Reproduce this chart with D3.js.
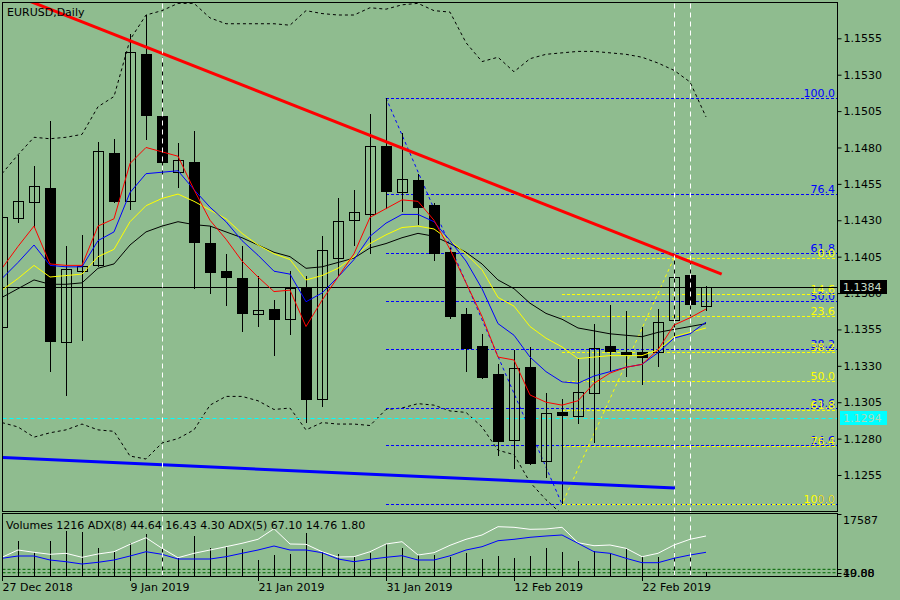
<!DOCTYPE html>
<html>
<head>
<meta charset="utf-8">
<script src="https://cdn.jsdelivr.net/npm/d3@7/dist/d3.min.js"></script>
<style>
    body { margin: 0; background: #8fbc8f; }
    svg { display: block; font-family: "DejaVu Sans", sans-serif; font-size: 11px; }
</style>
</head>
<body>
<svg id="chart" width="900" height="600"></svg>
<script>
// EURUSD Daily - velas, medias, Bollinger, Fibonacci, volumen + ADX

// Fechas de las barras (dias de mercado)
const dates = [
    '27 Dec 2018', '28 Dec 2018', '31 Dec 2018', '2 Jan 2019', '3 Jan 2019', '4 Jan 2019', '7 Jan 2019', '8 Jan 2019',
    '9 Jan 2019', '10 Jan 2019', '11 Jan 2019', '14 Jan 2019', '15 Jan 2019', '16 Jan 2019', '17 Jan 2019', '18 Jan 2019',
    '21 Jan 2019', '22 Jan 2019', '23 Jan 2019', '24 Jan 2019', '25 Jan 2019', '28 Jan 2019', '29 Jan 2019', '30 Jan 2019',
    '31 Jan 2019', '1 Feb 2019', '4 Feb 2019', '5 Feb 2019', '6 Feb 2019', '7 Feb 2019', '8 Feb 2019', '11 Feb 2019',
    '12 Feb 2019', '13 Feb 2019', '14 Feb 2019', '15 Feb 2019', '18 Feb 2019', '19 Feb 2019', '20 Feb 2019', '21 Feb 2019',
    '22 Feb 2019', '25 Feb 2019', '26 Feb 2019', '27 Feb 2019', '28 Feb 2019'
];

const opens = [
    1.1356, 1.1431, 1.1442, 1.1452, 1.1346, 1.1395, 1.1399, 1.1476, 1.1443, 1.1544,
    1.1501, 1.1463, 1.1470, 1.1414, 1.1395, 1.1390, 1.1365, 1.1369, 1.1362, 1.1384,
    1.1307, 1.1404, 1.1430, 1.1434, 1.1481, 1.1449, 1.1457, 1.1440, 1.1408, 1.1365,
    1.1343, 1.1324, 1.1279, 1.1329, 1.1264, 1.1298, 1.1295, 1.1311, 1.1343, 1.1339,
    1.1339, 1.1339, 1.1361, 1.1392, 1.1371
];
const highs = [
    1.1437, 1.1475, 1.1467, 1.1498, 1.1412, 1.1420, 1.1484, 1.1486, 1.1558, 1.1571,
    1.1542, 1.1483, 1.1491, 1.1426, 1.1407, 1.1412, 1.1392, 1.1375, 1.1395, 1.1392,
    1.1419, 1.1445, 1.1451, 1.1503, 1.1514, 1.1490, 1.1462, 1.1442, 1.1411, 1.1370,
    1.1352, 1.1331, 1.1341, 1.1343, 1.1311, 1.1307, 1.1335, 1.1359, 1.1372, 1.1368,
    1.1357, 1.1369, 1.1404, 1.1405, 1.1385
];
const lows = [
    1.1351, 1.1428, 1.1425, 1.1326, 1.1309, 1.1347, 1.1398, 1.1442, 1.1437, 1.1485,
    1.1459, 1.1452, 1.1383, 1.1379, 1.1371, 1.1353, 1.1357, 1.1337, 1.1351, 1.1291,
    1.1302, 1.1391, 1.1412, 1.1407, 1.1438, 1.1436, 1.1427, 1.1402, 1.1362, 1.1326,
    1.1321, 1.1268, 1.1259, 1.1262, 1.1253, 1.1235, 1.1290, 1.1277, 1.1326, 1.1322,
    1.1317, 1.1329, 1.1348, 1.1364, 1.1368
];
const closes = [
    1.1432, 1.1443, 1.1453, 1.1347, 1.1396, 1.1398, 1.1477, 1.1443, 1.1545, 1.1502,
    1.1470, 1.1471, 1.1415, 1.1394, 1.1391, 1.1366, 1.1368, 1.1362, 1.1383, 1.1307,
    1.1409, 1.1429, 1.1435, 1.1481, 1.1450, 1.1458, 1.1439, 1.1407, 1.1364, 1.1342,
    1.1322, 1.1278, 1.1328, 1.1263, 1.1297, 1.1296, 1.1312, 1.1342, 1.1340, 1.1338,
    1.1336, 1.1360, 1.1391, 1.1372, 1.1384
];

// Medias moviles
const maRed = [
    1.1397, 1.1412, 1.1426, 1.1400, 1.1399, 1.1399, 1.1426, 1.1431, 1.1469, 1.1480,
    1.1477, 1.1474, 1.1451, 1.1430, 1.1417, 1.1402, 1.1391, 1.1381, 1.1382, 1.1357,
    1.1375, 1.1391, 1.1407, 1.1432, 1.1438, 1.1444, 1.1443, 1.1430, 1.1410, 1.1387,
    1.1364, 1.1336, 1.1334, 1.1310, 1.1305, 1.1303, 1.1306, 1.1318, 1.1325, 1.1329,
    1.1331, 1.1341, 1.1358, 1.1363, 1.1369
];
const maBlue = [
    1.1390, 1.1401, 1.1413, 1.1399, 1.1398, 1.1398, 1.1416, 1.1422, 1.1449, 1.1462,
    1.1463, 1.1464, 1.1451, 1.1439, 1.1429, 1.1416, 1.1406, 1.1395, 1.1393, 1.1374,
    1.1380, 1.1391, 1.1403, 1.1419, 1.1428, 1.1434, 1.1434, 1.1429, 1.1416, 1.1402,
    1.1383, 1.1359, 1.1351, 1.1336, 1.1326, 1.1319, 1.1318, 1.1323, 1.1326, 1.1329,
    1.1331, 1.1339, 1.1349, 1.1352, 1.1360
];
const maYellow = [
    1.1382, 1.1390, 1.1399, 1.1391, 1.1392, 1.1393, 1.1405, 1.1410, 1.1429, 1.1440,
    1.1445, 1.1448, 1.1443, 1.1437, 1.1431, 1.1421, 1.1413, 1.1407, 1.1403, 1.1389,
    1.1392, 1.1397, 1.1405, 1.1414, 1.1420, 1.1425, 1.1426, 1.1424, 1.1416, 1.1407,
    1.1396, 1.1377, 1.1371, 1.1357, 1.1349, 1.1343, 1.1335, 1.1336, 1.1337, 1.1337,
    1.1337, 1.1341, 1.1350, 1.1353, 1.1356
];
const maBlack = [
    1.1377, 1.1383, 1.1389, 1.1386, 1.1386, 1.1387, 1.1397, 1.1400, 1.1413, 1.1422,
    1.1426, 1.1429, 1.1427, 1.1426, 1.1422, 1.1418, 1.1413, 1.1408, 1.1405, 1.1397,
    1.1398, 1.1401, 1.1404, 1.1411, 1.1414, 1.1418, 1.1421, 1.1419, 1.1414, 1.1408,
    1.1400, 1.1389, 1.1383, 1.1373, 1.1366, 1.1362, 1.1356, 1.1354, 1.1352, 1.1351,
    1.1350, 1.1353, 1.1355, 1.1357, 1.1359
];

// Bandas de Bollinger (la inferior sale del grafico tras el 15 Feb)
const bbUpper = [
    1.1462, 1.1475, 1.1487, 1.1486, 1.1487, 1.1489, 1.1508, 1.1515, 1.1554, 1.1571,
    1.1574, 1.1579, 1.1579, 1.1569, 1.1565, 1.1565, 1.1565, 1.1565, 1.1564, 1.1574,
    1.1572, 1.1571, 1.1571, 1.1576, 1.1575, 1.1578, 1.1579, 1.1574, 1.1573, 1.1552,
    1.1539, 1.1542, 1.1532, 1.1541, 1.1544, 1.1545, 1.1546, 1.1546, 1.1545, 1.1544,
    1.1542, 1.1538, 1.1533, 1.1525, 1.1501
];
const bbLower = [
    1.1291, 1.1288, 1.1281, 1.1284, 1.1286, 1.1290, 1.1286, 1.1285, 1.1268, 1.1266,
    1.1277, 1.1280, 1.1286, 1.1303, 1.1309, 1.1309, 1.1306, 1.1300, 1.1301, 1.1286,
    1.1291, 1.1290, 1.1290, 1.1289, 1.1300, 1.1301, 1.1304, 1.1303, 1.1299, 1.1298,
    1.1288, 1.1272, 1.1269, 1.1250, 1.1238, 1.1228
];

// Ventana inferior
const volumes = [
    7945, 9930, 6725, 9930, 12770, 12400, 7860, 7095, 9450, 11830,
    8230, 5475, 11350, 8030, 8140, 7575, 4540, 5960, 6240, 12285,
    6895, 6240, 5305, 6440, 8995, 7860, 5960, 5960, 5475, 6610,
    4825, 5675, 5190, 5675, 8030, 6895, 4340, 7180, 6610, 7860,
    5675, 5305, 6895, 6440, 1216
];
const adx8 = [
    36.38, 39.55, 39.55, 34.04, 31.69, 28.52, 30.87, 34.04, 39.55, 45.47,
    41.89, 35.41, 35.41, 35.41, 38.58, 43.27, 47.82, 53.33, 47.82, 47.82,
    44.10, 35.41, 31.69, 35.00, 37.76, 39.96, 34.04, 34.04, 39.82, 47.82,
    52.36, 60.63, 62.56, 65.32, 67.11, 68.49, 57.05, 45.47, 43.27, 36.38,
    30.32, 30.32, 36.38, 40.93, 44.64
];
const adx5 = [
    37.76, 47.82, 44.65, 41.89, 43.27, 37.76, 42.30, 45.47, 55.67, 64.77,
    50.16, 37.21, 43.27, 47.82, 52.36, 57.05, 62.56, 77.17, 56.08, 55.67,
    45.47, 38.17, 38.58, 45.47, 56.08, 59.25, 40.93, 44.10, 54.29, 62.56,
    68.49, 79.92, 79.10, 76.34, 76.75, 79.10, 57.88, 53.74, 54.71, 50.16,
    38.58, 43.27, 54.71, 62.56, 67.10
];
const adxLevels = [21.2, 16.5];

// Etiquetas de ejes
const dateTicks = [0, 8, 16, 24, 32, 40];
const priceTicks = [1.1555, 1.1530, 1.1505, 1.1480, 1.1455, 1.1430, 1.1405, 1.1380, 1.1355, 1.1330, 1.1305, 1.1280, 1.1255];
const volumeMax = 17587;
const lowerTickLabels = ['40.00', '19.88'];

// Objetos dibujados: [barra, precio]
const redTrend = [[0, 1.1588], [44.98, 1.1393]];
const blueTrend = [[0, 1.1267], [42.06, 1.1246]];
const fibBlueAnchors = [[24, 1.1514], [35, 1.1235]];   // 100 -> 0
const fibYellowAnchors = [[42, 1.1404], [35, 1.1235]]; // 0 -> 100
const fibLevels = [0, 14.6, 23.6, 38.2, 50, 61.8, 76.4, 100];
const markerBars = [10, 42, 43];
const cyanLevel = 1.1294;
const lastPrice = 1.1384;

const svg = d3.select('#chart');

const L = 2.5, R = 837.5, mainTop = 2.5, mainBottom = 511.5, lowTop = 513.5, lowBottom = 576.5;

const x = d3.scaleLinear().domain([0, 44]).range([2, 706]);
const y = d3.scaleLinear().domain([1.1255, 1.1555]).range([475, 38.3]);
const yVol = d3.scaleLinear().domain([0, volumeMax]).range([576, 514]);
const yAdx = d3.scaleLinear().domain([12, 98.8]).range([576, 513]);

// Recortes de las dos ventanas
const defs = svg.append('defs');
defs.append('clipPath').attr('id', 'clip-main')
    .append('rect').attr('x', L + 0.5).attr('y', mainTop + 0.5).attr('width', R - L - 1).attr('height', mainBottom - mainTop - 1);
defs.append('clipPath').attr('id', 'clip-low')
    .append('rect').attr('x', L + 0.5).attr('y', lowTop + 0.5).attr('width', R - L - 1).attr('height', lowBottom - lowTop - 1);

const main = svg.append('g').attr('clip-path', 'url(#clip-main)');
const low = svg.append('g').attr('clip-path', 'url(#clip-low)');

const lineOf = arr => d3.line().x((d, i) => x(i)).y(d => y(d))(arr);

// Bandas de Bollinger
[bbUpper, bbLower].forEach(band => {
    main.append('path').attr('d', lineOf(band))
        .attr('fill', 'none').attr('stroke', '#000').attr('stroke-width', 1)
        .attr('stroke-dasharray', '3,3');
});

// Niveles de Fibonacci
function drawFib(anchors, color, reversed) {
    const [a, b] = anchors;
    const hi = Math.max(a[1], b[1]), lo = Math.min(a[1], b[1]);
    const startBar = Math.min(a[0], b[0]);
    fibLevels.forEach(lv => {
        const p = reversed ? hi - lv / 100 * (hi - lo) : lo + lv / 100 * (hi - lo);
        const yy = Math.round(y(p)) + 0.5;
        main.append('line')
            .attr('x1', x(startBar)).attr('x2', R).attr('y1', yy).attr('y2', yy)
            .attr('stroke', color).attr('stroke-dasharray', '3,2')
            .attr('shape-rendering', 'crispEdges');
        main.append('text')
            .attr('x', 835).attr('y', yy - 2)
            .attr('text-anchor', 'end').attr('fill', color)
            .text(lv.toFixed(1));
    });
    main.append('line')
        .attr('x1', x(a[0])).attr('y1', y(a[1])).attr('x2', x(b[0])).attr('y2', y(b[1]))
        .attr('stroke', color).attr('stroke-dasharray', '3,3');
}
drawFib(fibBlueAnchors, '#0000ff', false);
drawFib(fibYellowAnchors, '#ffff00', true);

// Linea cian y precio actual
main.append('line')
    .attr('x1', L).attr('x2', R).attr('y1', Math.round(y(cyanLevel)) + 0.5).attr('y2', Math.round(y(cyanLevel)) + 0.5)
    .attr('stroke', '#00ffff').attr('stroke-dasharray', '4,3');
main.append('line')
    .attr('x1', L).attr('x2', R).attr('y1', Math.round(y(lastPrice)) + 0.5).attr('y2', Math.round(y(lastPrice)) + 0.5)
    .attr('stroke', '#000');

// Velas
const candles = main.append('g').attr('shape-rendering', 'crispEdges');
dates.forEach((d, i) => {
    const cx = Math.round(x(i)) + 0.5;
    candles.append('line')
        .attr('x1', cx).attr('x2', cx).attr('y1', y(highs[i])).attr('y2', y(lows[i]))
        .attr('stroke', '#000');
    const top = y(Math.max(opens[i], closes[i]));
    const bot = y(Math.min(opens[i], closes[i]));
    const bull = closes[i] >= opens[i];
    candles.append('rect')
        .attr('x', cx - 5).attr('width', 10)
        .attr('y', top).attr('height', Math.max(1, bot - top))
        .attr('fill', bull ? 'none' : '#000')
        .attr('stroke', '#000');
});

// Medias moviles
[[maBlack, '#000000'], [maYellow, '#ffff00'], [maBlue, '#0000ff'], [maRed, '#ff0000']].forEach(([arr, color]) => {
    main.append('path').attr('d', lineOf(arr))
        .attr('fill', 'none').attr('stroke', color).attr('stroke-width', 1);
});

// Lineas de tendencia
[[redTrend, '#ff0000'], [blueTrend, '#0000ff']].forEach(([pts, color]) => {
    main.append('line')
        .attr('x1', x(pts[0][0])).attr('y1', y(pts[0][1]))
        .attr('x2', x(pts[1][0])).attr('y2', y(pts[1][1]))
        .attr('stroke', color).attr('stroke-width', 3);
});

main.append('text').attr('x', 7).attr('y', 16).attr('fill', '#000').text('EURUSD,Daily');

// Ventana inferior: niveles, volumen, ADX
adxLevels.forEach(lv => {
    low.append('line')
        .attr('x1', L).attr('x2', R).attr('y1', yAdx(lv)).attr('y2', yAdx(lv))
        .attr('stroke', '#006400').attr('stroke-dasharray', '3,2');
});
low.append('g').attr('shape-rendering', 'crispEdges')
    .selectAll('line').data(volumes).enter().append('line')
    .attr('x1', (d, i) => Math.round(x(i)) + 0.5).attr('x2', (d, i) => Math.round(x(i)) + 0.5)
    .attr('y1', d => yVol(d)).attr('y2', 576)
    .attr('stroke', '#000');
[[adx5, '#ffffff'], [adx8, '#0000ff']].forEach(([arr, color]) => {
    low.append('path')
        .attr('d', d3.line().x((d, i) => x(i)).y(d => yAdx(d))(arr))
        .attr('fill', 'none').attr('stroke', color).attr('stroke-width', 1);
});
low.append('text').attr('x', 6).attr('y', 529).attr('fill', '#000')
    .text('Volumes 1216 ADX(8) 44.64 16.43 4.30 ADX(5) 67.10 14.76 1.80');

// Marcas verticales blancas
markerBars.forEach(b => {
    svg.append('line')
        .attr('x1', Math.round(x(b)) + 0.5).attr('x2', Math.round(x(b)) + 0.5)
        .attr('y1', mainTop + 1).attr('y2', lowBottom - 1)
        .attr('stroke', '#ffffff').attr('stroke-dasharray', '5,4');
});

// Marcos
[[mainTop, mainBottom], [lowTop, lowBottom]].forEach(([t, b]) => {
    svg.append('rect').attr('x', L).attr('y', t).attr('width', R - L).attr('height', b - t)
        .attr('fill', 'none').attr('stroke', '#000');
});

// Eje de precios
const yAxis = svg.append('g').attr('transform', `translate(${R},0)`)
    .call(d3.axisRight(y).tickValues(priceTicks).tickFormat(d3.format('.4f')).tickSize(4).tickPadding(2));
yAxis.select('.domain').remove();
yAxis.selectAll('text').attr('font-family', '"DejaVu Sans", sans-serif').attr('font-size', 11).attr('fill', '#000');

// Etiquetas del precio actual y nivel cian
const yp = Math.round(y(lastPrice));
svg.append('rect').attr('x', 840).attr('y', yp - 7).attr('width', 47).attr('height', 14).attr('fill', '#000');
svg.append('text').attr('x', 843).attr('y', yp + 4).attr('fill', '#c8dcc8').text(lastPrice.toFixed(4));
const yc = Math.round(y(cyanLevel));
svg.append('rect').attr('x', 840).attr('y', yc - 7).attr('width', 47).attr('height', 14).attr('fill', '#00ffff');
svg.append('text').attr('x', 843).attr('y', yc + 4).attr('fill', '#a8d8b8').text(cyanLevel.toFixed(4));

// Eje de la ventana inferior
[yVol(volumeMax), yAdx(adxLevels[0]), yAdx(adxLevels[1]), 576].forEach(t => {
    svg.append('line').attr('x1', R).attr('x2', R + 4).attr('y1', Math.round(t) + 0.5).attr('y2', Math.round(t) + 0.5).attr('stroke', '#000');
});
svg.append('text').attr('x', 843).attr('y', yVol(volumeMax) + 10).attr('fill', '#000').text(volumeMax);
lowerTickLabels.forEach(t => {
    svg.append('text').attr('x', 843).attr('y', 577).attr('fill', '#000').text(t);
});

// Eje de fechas
dateTicks.forEach(i => {
    const tx = Math.round(x(i)) + 0.5;
    svg.append('line').attr('x1', tx).attr('x2', tx).attr('y1', 576).attr('y2', 581).attr('stroke', '#000');
    svg.append('text').attr('x', tx).attr('y', 591).attr('fill', '#000').text(dates[i]);
});
</script>
</body>
</html>
